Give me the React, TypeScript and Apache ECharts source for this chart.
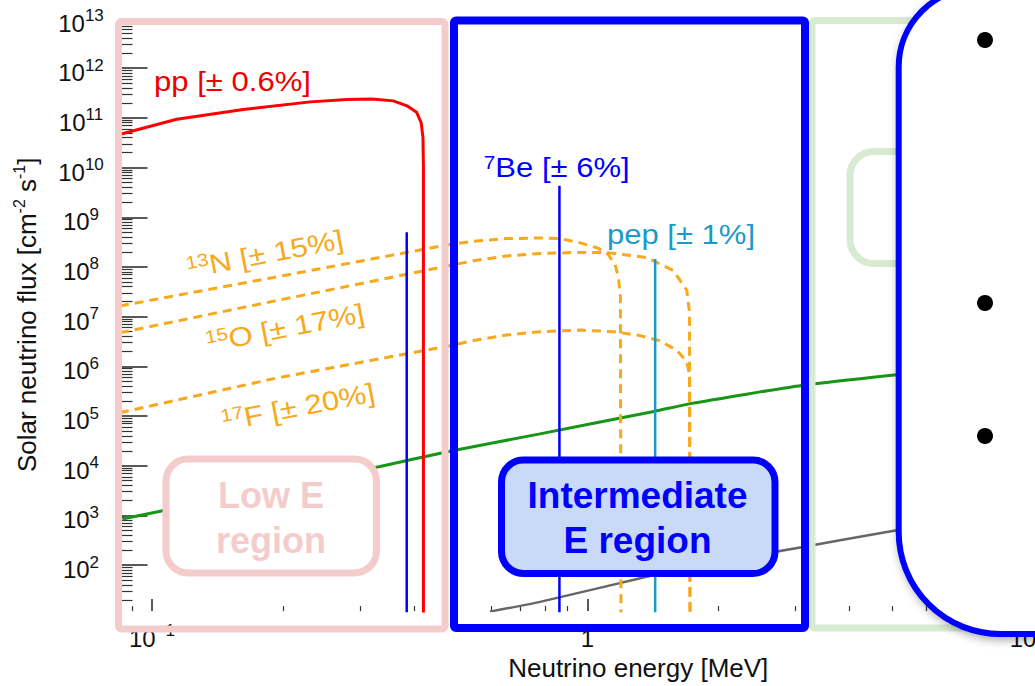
import React, { useEffect, useRef } from 'react';
import * as echarts from 'echarts';

// ---- data (energy in MeV, flux in cm^-2 s^-1) ----
const ppEnergy = [0.0845, 0.114, 0.162, 0.231, 0.28, 0.32, 0.358, 0.385, 0.405, 0.415, 0.419, 0.42, 0.42];
const ppFlux = [4.7e10, 9.4e10, 1.48e11, 2.1e11, 2.35e11, 2.4e11, 2.2e11, 1.75e11, 1.3e11, 8e10, 4e10, 1e10, 1];

const n13Energy = [0.0844, 0.193, 0.483, 0.547, 0.652, 0.778, 0.865, 0.961, 1.05, 1.107, 1.156, 1.177, 1.19, 1.194];
const n13Flux = [1.64e7, 6.3e7, 2.85e8, 3.29e8, 3.72e8, 3.83e8, 3.72e8, 3.06e8, 2.44e8, 1.95e8, 1.15e8, 6.3e7, 2.5e7, 1];

const o15Energy = [0.0844, 0.193, 0.483, 0.547, 0.652, 0.778, 0.928, 1.107, 1.367, 1.574, 1.69, 1.715, 1.72];
const o15Flux = [4.75e6, 2.1e7, 1.07e8, 1.33e8, 1.67e8, 1.86e8, 1.95e8, 1.95e8, 1.55e8, 8.5e7, 3.4e7, 1.2e7, 1];

const f17Energy = [0.0844, 0.193, 0.483, 0.547, 0.652, 0.778, 0.961, 1.15, 1.32, 1.46, 1.603, 1.69, 1.715, 1.72];
const f17Flux = [1.17e5, 5.8e5, 2.6e6, 3.3e6, 4.27e6, 4.98e6, 5.36e6, 4.98e6, 4.16e6, 3.31e6, 2.11e6, 1.24e6, 6.8e5, 1];

const b8Energy = [0.0855, 0.334, 0.483, 0.778, 1.429, 1.735, 3.1, 5.13];
const b8Flux = [850, 9680, 1.96e4, 4.38e4, 1.25e5, 1.8e5, 4.14e5, 6.81e5];

const hepEnergy = [0.597, 0.778, 1.429, 1.735, 3.1, 5.13];
const hepFlux = [11.6, 18.2, 64, 93, 230, 504];

const be7LineEnergy = [0.3845, 0.862];
const be7LineFlux = [5.0e8, 4.3e9];
const pepLineEnergy = 1.43;
const pepLineFlux = 1.44e8;
const lineFloorFlux = 1;

const xTickExponents = [-1, 0, 1];
const yTickExponents = [2, 3, 4, 5, 6, 7, 8, 9, 10, 11, 12, 13];

const X_MIN = -1.07;
const X_MAX = 1.303;
const Y_MIN = 1.075;
const Y_MAX = 13;

const FONT = '"Liberation Sans", Arial, Helvetica, sans-serif';

const toLog = (E: number[], F: number[]) => E.map((e, i) => [Math.log10(e), Math.log10(F[i])]);
const vline = (e: number, top: number) => [
  [Math.log10(e), Math.log10(lineFloorFlux)],
  [Math.log10(e), Math.log10(top)],
];

const minorTicks = (lo: number, hi: number, from: number, to: number) => {
  const out: number[] = [];
  for (let n = from; n <= to; n++) {
    for (let k = 2; k <= 9; k++) {
      const v = n + Math.log10(k);
      if (v >= lo && v <= hi) out.push(v);
    }
  }
  return out;
};

export default function App() {
  const ref = useRef<HTMLDivElement>(null);

  useEffect(() => {
    if (!ref.current) return;
    document.documentElement.style.overflow = 'hidden';
    document.body.style.overflow = 'hidden';
    const chart = echarts.init(ref.current, undefined, { renderer: 'svg' });

    const orange = '#f7a81b';
    const dashed = { color: orange, width: 3, type: [9, 6] as any };
    const tickRich = {
      b: { fontSize: 24, lineHeight: 32, color: '#111', fontFamily: FONT },
      s: { fontSize: 17, lineHeight: 16, verticalAlign: 'top', color: '#111', fontFamily: FONT },
    };
    const labelRich = (size: number, color: string) => ({
      n: { fontSize: size, lineHeight: 30, fill: color, color, fontFamily: FONT },
      s: { fontSize: 18, lineHeight: 16, verticalAlign: 'top', fill: color, color, fontFamily: FONT },
    });

    const textEl = (text: string, x: number, y: number, color: string, opts: any = {}) => ({
      type: 'text',
      x,
      y,
      z: 70,
      rotation: opts.rotation || 0,
      scaleX: opts.scaleX || 1,
      style: {
        text,
        fill: color,
        fontSize: opts.fontSize || 27,
        fontWeight: opts.fontWeight || 'normal',
        fontFamily: FONT,
        align: 'center',
        verticalAlign: 'middle',
        rich: opts.rich,
      },
    });

    const hiddenLine = { show: false, onZero: false };

    const option: any = {
      animation: false,
      backgroundColor: '#fff',
      grid: { left: 121.5, right: 0, top: 18.5, bottom: 60.5 },
      xAxis: [
        {
          type: 'value',
          min: X_MIN,
          max: X_MAX,
          position: 'bottom',
          axisLine: hiddenLine,
          splitLine: { show: false },
          axisTick: {
            show: true,
            inside: true,
            length: 12,
            customValues: xTickExponents,
            lineStyle: { color: '#222', width: 1.5 },
          },
          axisLabel: {
            customValues: xTickExponents,
            margin: 11,
            rich: tickRich,
            formatter: (v: number) => {
              const n = Math.round(v);
              if (n === 0) return '{b|1}';
              if (n === 1) return '{b|10}';
              return `{b|10}{s|−${Math.abs(n)}}`;
            },
          },
          name: 'Neutrino energy [MeV]',
          nameLocation: 'middle',
          nameGap: 35,
          nameTextStyle: { fontSize: 26, color: '#111', fontFamily: FONT },
        },
        {
          type: 'value',
          min: X_MIN,
          max: X_MAX,
          position: 'bottom',
          axisLine: hiddenLine,
          splitLine: { show: false },
          axisLabel: { show: false },
          axisTick: {
            show: true,
            inside: true,
            length: 5,
            customValues: minorTicks(X_MIN, X_MAX, -2, 1),
            lineStyle: { color: '#333', width: 1.2 },
          },
        },
      ],
      yAxis: [
        {
          type: 'value',
          min: Y_MIN,
          max: Y_MAX,
          position: 'left',
          axisLine: hiddenLine,
          splitLine: { show: false },
          axisTick: {
            show: true,
            inside: true,
            length: 26,
            customValues: yTickExponents,
            lineStyle: { color: '#222', width: 1.5 },
          },
          axisLabel: {
            customValues: yTickExponents,
            align: 'center',
            margin: 40.5,
            padding: [9, 0, 0, 0],
            rich: tickRich,
            formatter: (v: number) => `{b|10}{s|${Math.round(v)}}`,
          },
          name: 'Solar neutrino flux [cm{s|-2} s{s|-1}]',
          nameLocation: 'middle',
          nameGap: 80,
          nameTextStyle: {
            fontSize: 26,
            lineHeight: 30,
            color: '#111',
            fontFamily: FONT,
            rich: { s: { fontSize: 16, lineHeight: 14, verticalAlign: 'top', color: '#111', fontFamily: FONT } },
          },
        },
        {
          type: 'value',
          min: Y_MIN,
          max: Y_MAX,
          position: 'left',
          axisLine: hiddenLine,
          splitLine: { show: false },
          axisLabel: { show: false },
          axisTick: {
            show: true,
            inside: true,
            length: 11,
            customValues: minorTicks(Y_MIN, Y_MAX, 1, 12),
            lineStyle: { color: '#333', width: 1.2 },
          },
        },
      ],
      series: [
        { name: 'hep', type: 'line', smooth: 0.2, showSymbol: false, data: toLog(hepEnergy, hepFlux), lineStyle: { color: '#666', width: 2.5 } },
        { name: '8B', type: 'line', smooth: 0.15, showSymbol: false, data: toLog(b8Energy, b8Flux), lineStyle: { color: '#169516', width: 3 } },
        { name: '17F', type: 'line', showSymbol: false, data: toLog(f17Energy, f17Flux), lineStyle: dashed },
        { name: '15O', type: 'line', showSymbol: false, data: toLog(o15Energy, o15Flux), lineStyle: dashed },
        { name: '13N', type: 'line', showSymbol: false, data: toLog(n13Energy, n13Flux), lineStyle: dashed },
        { name: 'pp', type: 'line', showSymbol: false, data: toLog(ppEnergy, ppFlux), lineStyle: { color: '#ff0000', width: 3 } },
        { name: '7Be-384', type: 'line', showSymbol: false, data: vline(be7LineEnergy[0], be7LineFlux[0]), lineStyle: { color: '#0000ff', width: 2.5 } },
        { name: '7Be-862', type: 'line', showSymbol: false, data: vline(be7LineEnergy[1], be7LineFlux[1]), lineStyle: { color: '#0000ff', width: 2.5 } },
        { name: 'pep', type: 'line', showSymbol: false, data: vline(pepLineEnergy, pepLineFlux), lineStyle: { color: '#1a9acb', width: 2.5 } },
      ],
      graphic: [
        // region frames
        { type: 'rect', z: 60, shape: { x: 118.5, y: 21.5, width: 326.5, height: 607.5, r: 3 }, style: { fill: 'none', stroke: '#f4cccc', lineWidth: 7 } },
        { type: 'rect', z: 60, shape: { x: 812, y: 20.5, width: 300, height: 607.5, r: 3 }, style: { fill: 'none', stroke: '#d9ead3', lineWidth: 7 } },
        { type: 'rect', z: 61, shape: { x: 454, y: 20.5, width: 351, height: 607.5, r: 2 }, style: { fill: 'none', stroke: '#0000ff', lineWidth: 8 } },
        // region label boxes
        { type: 'rect', z: 62, shape: { x: 166, y: 459, width: 210.5, height: 114, r: 22 }, style: { fill: '#ffffff', stroke: '#f4cccc', lineWidth: 7 } },
        textEl('Low E', 271, 495, '#f4cccc', { fontSize: 36, fontWeight: 'bold' }),
        textEl('region', 271, 540, '#f4cccc', { fontSize: 36, fontWeight: 'bold' }),
        { type: 'rect', z: 62, shape: { x: 501.5, y: 460, width: 273.5, height: 113.5, r: 22 }, style: { fill: '#c9daf8', stroke: '#0000ff', lineWidth: 7 } },
        textEl('Intermediate', 637.5, 495, '#0000ff', { fontSize: 37, fontWeight: 'bold' }),
        textEl('E region', 637.5, 540, '#0000ff', { fontSize: 37, fontWeight: 'bold' }),
        { type: 'rect', z: 62, shape: { x: 850, y: 151.5, width: 120, height: 112, r: 24 }, style: { fill: '#ffffff', stroke: '#d9ead3', lineWidth: 7 } },
        // curve labels
        textEl('pp [± 0.6%]', 232.5, 82, '#ee0000', { scaleX: 1.15 }),
        textEl('{s|7}{n|Be [± 6%]}', 556.7, 168, '#0000ff', { scaleX: 1.15, rich: labelRich(27, '#0000ff') }),
        textEl('pep [± 1%]', 681, 235, '#1a9acb', { scaleX: 1.15 }),
        textEl('{s|13}{n|N [± 15%]}', 265, 254, orange, { scaleX: 1.15, rotation: 0.19, rich: labelRich(27, orange) }),
        textEl('{s|15}{n|O [± 17%]}', 285, 328, orange, { scaleX: 1.15, rotation: 0.19, rich: labelRich(27, orange) }),
        textEl('{s|17}{n|F [± 20%]}', 298, 407, orange, { scaleX: 1.15, rotation: 0.19, rich: labelRich(27, orange) }),
        // overlaid callout
        {
          type: 'rect',
          z: 90,
          shape: { x: 898.7, y: -12, width: 300, height: 646, r: [79, 0, 0, 102] },
          style: { fill: '#ffffff', stroke: '#0000ff', lineWidth: 6, shadowBlur: 10, shadowColor: 'rgba(0,0,0,0.35)', shadowOffsetX: 2, shadowOffsetY: 3 },
        },
        { type: 'circle', z: 91, shape: { cx: 985, cy: 40, r: 8 }, style: { fill: '#000' } },
        { type: 'circle', z: 91, shape: { cx: 985, cy: 303, r: 8 }, style: { fill: '#000' } },
        { type: 'circle', z: 91, shape: { cx: 985, cy: 436, r: 8 }, style: { fill: '#000' } },
      ],
    };

    chart.setOption(option);
    return () => chart.dispose();
  }, []);

  return (
    <div
      ref={ref}
      style={{ position: 'fixed', left: 0, top: 0, width: 1155, height: 686, background: '#fff' }}
    />
  );
}
